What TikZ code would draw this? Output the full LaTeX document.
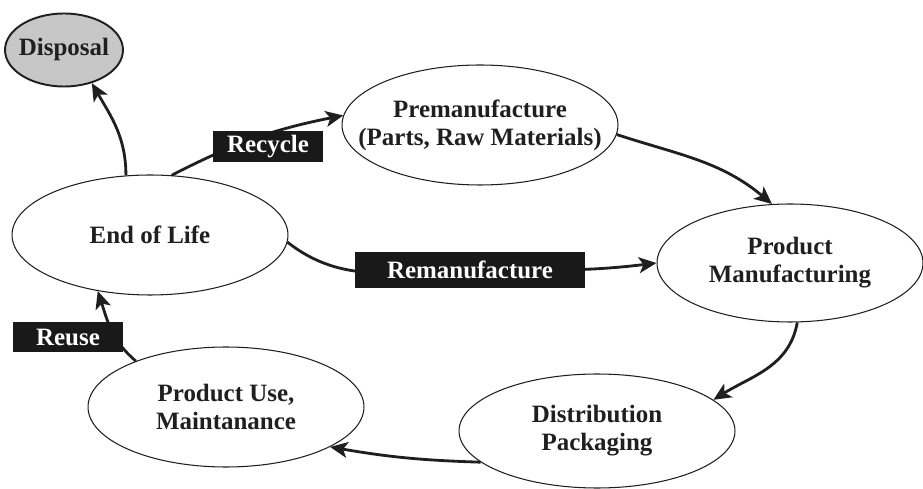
\documentclass[tikz,border=0pt]{standalone}
\usepackage{fontspec}
\setmainfont{Liberation Serif}
\usetikzlibrary{shapes.geometric,arrows.meta}
\definecolor{InkGray}{gray}{0.12}
\definecolor{DiscGray}{gray}{0.78}
\definecolor{TagBlack}{gray}{0.1}

\begin{document}
\begin{tikzpicture}[x=0.02cm,y=-0.02cm]
	\tikzstyle{TextStyle}  = [text=InkGray, font=\fontsize{14.2}{16}\selectfont\bfseries, align=center]
	\tikzstyle{StageStyle} = [shape=ellipse, draw=InkGray, line width=0.6pt, minimum width=5.52cm, minimum height=2.4cm, inner sep=0pt]
	\tikzstyle{TagStyle}   = [shape=rectangle, fill=TagBlack, text=white, font=\fontsize{14.2}{16}\selectfont\bfseries, minimum height=0.62cm, inner sep=0pt]
	\tikzstyle{EdgeStyle}  = [line width=1.6pt, draw=InkGray, -{Stealth[length=10pt,width=9pt,inset=2.5pt]}]

	\useasboundingbox (0,0) rectangle (923,489);
	\node[StageStyle, line width=1.1pt, fill=DiscGray, minimum width=2.36cm, minimum height=1.46cm, label={[TextStyle]center:Disposal}] (Disposal) at (64,50) {};
	\node[StageStyle, label={[TextStyle]center:{Premanufacture\\(Parts, Raw Materials)}}] (Premanufacture) at (480,125) {};
	\node[StageStyle, label={[TextStyle]center:End of Life}] (EndOfLife) at (150,235) {};
	\node[StageStyle, minimum width=5.32cm, minimum height=2.36cm, label={[TextStyle]center:{Product\\Manufacturing}}] (Manufacturing) at (790,263) {};
	\node[StageStyle, minimum height=2.28cm, label={[TextStyle]center:{Distribution\\Packaging}}] (Distribution) at (597,431) {};
	\node[StageStyle, label={[TextStyle]center:{Product Use,\\Maintanance}}] (ProductUse) at (226,407) {};

	\coordinate (RemanAt) at (470,270);
	\draw[EdgeStyle] (EndOfLife.112) to[out=90,in=-60] (Disposal.-50);
	\draw[EdgeStyle] (EndOfLife.70) to[bend left=8] (Premanufacture.176);
	\draw[EdgeStyle] (Premanufacture.-4) to[out=-18,in=140] (Manufacturing.107);
	\draw[EdgeStyle] (EndOfLife.-3) to[out=-38,in=180] (RemanAt) to[out=0,in=187] (Manufacturing.west);
	\draw[EdgeStyle] (Manufacturing.-83) to[out=-100,in=32] (Distribution.15);
	\draw[EdgeStyle] (Distribution.195) to[bend left=4] (ProductUse.-21);
	\draw[EdgeStyle] (ProductUse.153) to[out=140,in=-72] (EndOfLife.227);

	\node[TagStyle, minimum width=2.2cm] (RecycleTag) at (268,147) {Recycle};
	\node[TagStyle, minimum width=4.62cm, minimum height=0.72cm] (RemanTag) at (RemanAt) {Remanufacture};
	\node[TagStyle, minimum width=2.22cm, minimum height=0.6cm] (ReuseTag) at (68,337) {Reuse};
\end{tikzpicture}
\end{document}
